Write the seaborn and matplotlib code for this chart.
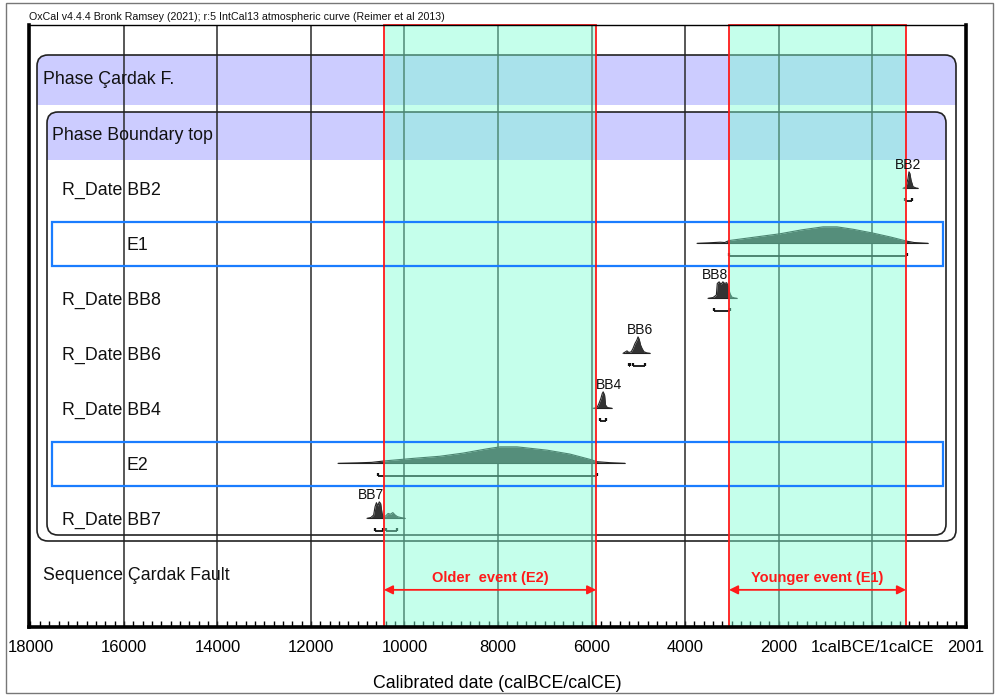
import matplotlib
matplotlib.use("Agg")
import numpy as np
import pandas as pd
import seaborn as sns
import matplotlib.pyplot as plt
from matplotlib.patches import FancyBboxPatch, Rectangle
from matplotlib.transforms import IdentityTransform, blended_transform_factory

# ---------------- data ----------------
row_labels = ['Phase Çardak F.', 'Phase Boundary top', 'R_Date BB2', 'E1',
              'R_Date BB8', 'R_Date BB6', 'R_Date BB4', 'E2', 'R_Date BB7',
              'Sequence Çardak Fault']

# years: calBCE negative (1calBCE = 0), calCE positive; prob relative to peak
bb2_years = [663, 727, 770, 790, 810, 834, 877, 941, 984]
bb2_prob = [0, 0.1, 0.6, 1.0, 0.9, 0.5, 0.1, 0.02, 0]

e1_years = [-3743, -3500, -3250, -3150, -3059, -2500, -1968, -1500, -1048, -749,
            -400, 21, 400, 749, 900, 1198]
e1_prob = [0, 0.03, 0.07, 0.05, 0.17, 0.38, 0.58, 0.82, 1.0, 1.0,
           0.85, 0.62, 0.38, 0.13, 0.05, 0]

bb8_years = [-3508, -3400, -3330, -3310, -3270, -3230, -3190, -3150, -3110, -3070,
             -3040, -3000, -2950, -2888]
bb8_prob = [0, 0.05, 0.2, 0.9, 1.0, 0.85, 1.0, 0.9, 0.95, 0.7, 0.3, 0.08, 0.03, 0]

bb6_years = [-5326, -5241, -5200, -5150, -5112, -5070, -5030, -5005, -4980, -4950,
             -4920, -4880, -4820, -4749]
bb6_prob = [0, 0.15, 0.05, 0.1, 0.3, 0.6, 0.8, 1.0, 0.85, 0.5, 0.3, 0.1, 0.03, 0]

bb4_years = [-5968, -5880, -5840, -5800, -5770, -5750, -5720, -5700, -5660, -5562]
bb4_prob = [0, 0.05, 0.3, 0.6, 0.9, 1.0, 0.8, 0.2, 0.05, 0]

e2_years = [-11422, -11000, -10700, -10417, -9818, -9241, -8749, -8235, -7957, -7594,
            -6952, -6460, -6032, -5882, -5600, -5283]
e2_prob = [0, 0.03, 0.06, 0.15, 0.3, 0.43, 0.62, 0.88, 1.0, 1.0,
           0.8, 0.56, 0.24, 0.1, 0.04, 0]

bb7_years = [-10802, -10720, -10660, -10630, -10600, -10570, -10540, -10510, -10480,
             -10450, -10400, -10350, -10300, -10250, -10200, -10150, -10080, -9989]
bb7_prob = [0, 0.05, 0.2, 0.7, 0.95, 0.75, 1.0, 0.9, 0.3, 0.1, 0.15, 0.3, 0.25,
            0.35, 0.2, 0.1, 0.05, 0]

# 95.4% ranges
bb2_ranges = [(706, 856)]
e1_ranges = [(-3059, 749)]
bb8_ranges = [(-3380, -3037)]
bb6_ranges = [(-5200, -5170), (-5112, -4856)]
bb4_ranges = [(-5818, -5690)]
e2_ranges = [(-10567, -5882)]
bb7_ranges = [(-10630, -10460), (-10400, -10160)]

dist_names = ['BB2', 'E1', 'BB8', 'BB6', 'BB4', 'E2', 'BB7']
dist_rows = [2, 3, 4, 5, 6, 7, 8]
dist_years = [bb2_years, e1_years, bb8_years, bb6_years, bb4_years, e2_years, bb7_years]
dist_probs = [bb2_prob, e1_prob, bb8_prob, bb6_prob, bb4_prob, e2_prob, bb7_prob]
dist_ranges = [bb2_ranges, e1_ranges, bb8_ranges, bb6_ranges, bb4_ranges, e2_ranges, bb7_ranges]
dist_show_name = [True, False, True, True, True, False, True]
dist_name_x = [770, None, -3358, -4963, -5626, None, -10717]

event_labels = ['Older  event (E2)', 'Younger event (E1)']
event_start = [-10440, -3059]
event_end = [-5900, 727]

tick_years = [-18000, -16000, -14000, -12000, -10000, -8000, -6000, -4000, -2000, 0, 2001]
tick_labels = ['18000', '16000', '14000', '12000', '10000', '8000', '6000', '4000',
               '2000', '1calBCE/1calCE', '2001']

title_text = 'OxCal v4.4.4 Bronk Ramsey (2021); r:5 IntCal13 atmospheric curve (Reimer et al 2013)'
xlabel_text = 'Calibrated date (calBCE/calCE)'

# ---------------- styling / layout ----------------
sns.set_theme(style='white')
plt.rcParams['font.family'] = ['Liberation Sans', 'DejaVu Sans']

W, H = 997, 695
AX_L, AX_R, AX_T, AX_B = 28.6, 966.0, 25.0, 627.0
ROW0_PX, ROW_PX = 80.0, 55.0

fig = plt.figure(figsize=(W / 100, H / 100), dpi=100)
fig.patch.set_facecolor('white')
ax = fig.add_axes([AX_L / W, 1 - AX_B / H, (AX_R - AX_L) / W, (AX_B - AX_T) / H])
ax.set_facecolor('white')

ax.set_xlim(-18040, 2010)
ax.set_ylim((AX_B - ROW0_PX) / ROW_PX, (AX_T - ROW0_PX) / ROW_PX)

ident = IdentityTransform()


def axfrac(px):
    return (px - AX_L) / (AX_R - AX_L)


xaxes_ydata = blended_transform_factory(ax.transAxes, ax.transData)

# rounded phase boxes with lavender header bands
lav = '#ccccff'
boxes = [  # x0, y0, x1, y1, band bottom (image pixels)
    (37, 55, 956, 541, 105),
    (47, 112, 946, 535, 160),
]
for x0, y0, x1, y1, yb in boxes:
    box = FancyBboxPatch((x0, H - y1), x1 - x0, y1 - y0,
                         boxstyle='round,pad=0,rounding_size=11',
                         transform=ident, fc='none', ec='#222222', lw=1.2, zorder=2.5)
    band = Rectangle((x0 - 2, H - yb), x1 - x0 + 4, yb - y0 + 2, transform=ident,
                     fc=lav, ec='none', zorder=1)
    band.set_clip_path(box)
    ax.add_artist(band)
    ax.add_artist(box)

# grid lines
for yr in tick_years[1:-1]:
    ax.axvline(yr, color='#2a2a2a', lw=1.1, zorder=2)

# distributions
SCALE = 0.30
BASE_OFF = -0.03
recs = []
for name, row, yrs, pr in zip(dist_names, dist_rows, dist_years, dist_probs):
    base = row + BASE_OFF
    for y_, p_ in zip(yrs, pr):
        recs.append({'name': name, 'year': y_, 'top': base - p_ * SCALE})
df = pd.DataFrame(recs)
n_before = len(ax.lines)
sns.lineplot(data=df, x='year', y='top', units='name', estimator=None, sort=False,
             color='#222222', lw=0.8, ax=ax, legend=False)
for ln in ax.lines[n_before:]:
    ln.set_zorder(3)
for name, row, yrs, pr in zip(dist_names, dist_rows, dist_years, dist_probs):
    base = row + BASE_OFF
    yrs_a = np.asarray(yrs, float)
    pr_a = np.asarray(pr, float)
    ax.fill_between(yrs_a, base, base - pr_a * SCALE, color='#333333', lw=0, zorder=3)
    ax.hlines(base, yrs_a[0], yrs_a[-1], color='#222222', lw=0.8, zorder=3)

# range brackets
for row, rngs in zip(dist_rows, dist_ranges):
    yb = row + 0.2
    for a, b in rngs:
        ax.hlines(yb, a, b, color='#111111', lw=1.3, zorder=3)
        ax.vlines([a, b], yb - 0.06, yb, color='#111111', lw=1.6, zorder=3)

# distribution names
for show, nm, row, nx in zip(dist_show_name, dist_names, dist_rows, dist_name_x):
    if show:
        ax.text(nx, row - 0.45, nm, ha='center', va='center', fontsize=10,
                color='#111111', zorder=7)

# event windows (cyan overlay)
for s, e in zip(event_start, event_end):
    ax.axvspan(s, e, facecolor='#7fffd4', alpha=0.45, edgecolor='none', zorder=4)

# blue highlight boxes around E1 / E2
for r in [3, 7]:
    top_px = ROW0_PX + r * ROW_PX - 23
    bot_px = ROW0_PX + r * ROW_PX + 21
    rect = Rectangle((52, H - bot_px), 943 - 52, bot_px - top_px, transform=ident,
                     fill=False, ec='#1a7dff', lw=1.6, zorder=5)
    ax.add_artist(rect)

# red outlines of event windows
for s, e in zip(event_start, event_end):
    ax.axvspan(s, e, fill=False, edgecolor='#ff1a1a', lw=1.3, zorder=6, clip_on=False)

# event arrows and labels
for lab, s, e in zip(event_labels, event_start, event_end):
    ya = 9.27
    ax.annotate('', xy=(s, ya), xytext=(e, ya),
                arrowprops=dict(arrowstyle='<|-|>', color='#ff1a1a', lw=1.3,
                                mutation_scale=13, shrinkA=0, shrinkB=0), zorder=7)
    ax.text((s + e) / 2, 9.055, lab, ha='center', va='center', fontsize=10.5,
            fontweight='bold', color='#ff1a1a', zorder=7)

# row labels
row_indent_px = [43, 52, 62, 126, 62, 62, 62, 126, 62, 43]
for i, (lab, ind) in enumerate(zip(row_labels, row_indent_px)):
    ax.text(axfrac(ind), i, lab, transform=xaxes_ydata, ha='left', va='center',
            fontsize=12.8, color='#111111', zorder=7)

# axes / ticks
ax.set_xticks(tick_years)
ax.set_xticklabels(tick_labels)
ax.set_xticks(np.arange(-18000, 2001, 200), minor=True)
ax.set_yticks([])
ax.set_ylabel('')
ax.tick_params(axis='x', which='both', direction='in', length=4, width=1,
               color='black', labelcolor='black', labelsize=12, pad=9,
               bottom=True, top=False)
ax.set_xlabel(xlabel_text, fontsize=12.8, color='black', labelpad=15)
for side, lw in [('left', 2.6), ('right', 2.6), ('bottom', 2.6), ('top', 1.0)]:
    ax.spines[side].set_visible(True)
    ax.spines[side].set_color('black')
    ax.spines[side].set_linewidth(lw)
    ax.spines[side].set_zorder(8)

# title and outer frame
fig.text(29 / W, 1 - 17 / H, title_text, ha='left', va='center', fontsize=7.7,
         color='#111111')
fig.add_artist(Rectangle((6, H - 693), 987, 690, transform=ident, fill=False,
                         ec='#777777', lw=1.0))

fig.savefig('out.png', dpi=100)
